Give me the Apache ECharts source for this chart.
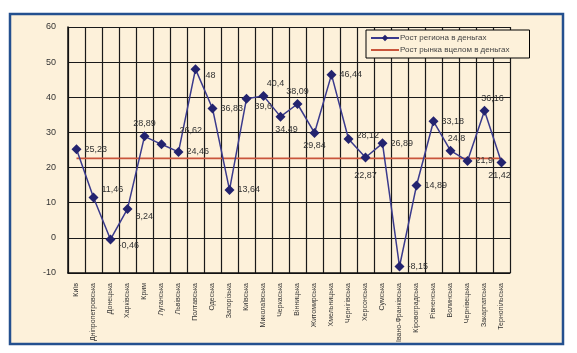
<!DOCTYPE html>
<html>
<head>
<meta charset="utf-8">
<script src="https://cdn.jsdelivr.net/npm/echarts@6/dist/echarts.min.js"></script>
<style>
  html, body { margin: 0; padding: 0; background: #fff; }
  #chart { width: 577px; height: 353px; }
</style>
</head>
<body>
<div id="chart"></div>
<script>
// регіони
var regions = ['Київ', 'Дніпропетровська', 'Донецька', 'Харківська', 'Крим', 'Луганська', 'Львівська',
  'Полтавська', 'Одеська', 'Запорізька', 'Київська', 'Миколаївська', 'Черкаська', 'Вінницька',
  'Житомирська', 'Хмельницька', 'Чернігівська', 'Херсонська', 'Сумська', 'Івано-Франківська',
  'Кіровоградська', 'Рівненська', 'Волинська', 'Чернівецька', 'Закарпатська', 'Тернопільська']
// рост региона, %
var regionGrowth = [25.23, 11.46, -0.46, 8.24, 28.89, 26.62, 24.46,
  48, 36.83, 13.64, 39.6, 40.4, 34.49, 38.09,
  29.84, 46.44, 28.12, 22.87, 26.89, -8.15,
  14.89, 33.18, 24.8, 21.9, 36.16, 21.42]
// рост рынка в целом
var marketGrowth = [22.6, 22.6, 22.6, 22.6, 22.6, 22.6, 22.6,
  22.6, 22.6, 22.6, 22.6, 22.6, 22.6, 22.6,
  22.6, 22.6, 22.6, 22.6, 22.6, 22.6,
  22.6, 22.6, 22.6, 22.6, 22.6, 22.6]
var yTicks = [-10, 0, 10, 20, 30, 40, 50, 60]

var seriesNames = ['Рост региона в деньгах', 'Рост рынка вцелом в деньгах']

// где стоит подпись у точки (по умолчанию справа)
var labelPlace = {
  1: { position: 'right', offset: [0, -8] },
  3: { position: 'right', offset: [0, 8] },
  2: { position: 'right', offset: [0, 6] },
  4: { position: 'top' },
  5: { position: 'right', offset: [10, -14] },
  7: { position: 'right', offset: [2, 6] },
  10: { position: 'right', offset: [0, 8] },
  11: { position: 'top', offset: [12, 0] },
  12: { position: 'bottom', offset: [6, 0] },
  13: { position: 'top' },
  14: { position: 'bottom' },
  16: { position: 'right', offset: [0, -4] },
  17: { position: 'bottom', offset: [0, 6] },
  22: { position: 'top', offset: [6, 0] },
  24: { position: 'top', offset: [8, 0] },
  25: { position: 'bottom', offset: [-2, 0] }
}

var fmt = function (v) { return String(v).replace('.', ',') }

var pointData = regionGrowth.map(function (v, i) {
  var item = { value: v }
  if (labelPlace[i]) item.label = labelPlace[i]
  return item
})

var chart = echarts.init(document.getElementById('chart'))
var option = {
  backgroundColor: '#fff',
  textStyle: { fontFamily: 'Liberation Sans, Arial, sans-serif' },
  graphic: [{
    type: 'rect',
    shape: { x: 10, y: 14, width: 553, height: 330 },
    style: { fill: '#fdf1da', stroke: '#24508f', lineWidth: 2.5 },
    z: -10
  }],
  grid: { left: 68, top: 27, right: 67, bottom: 80 },
  legend: {
    orient: 'vertical',
    left: 366,
    top: 30,
    width: 140,
    padding: [4, 20, 4, 4],
    itemGap: 4,
    itemWidth: 28,
    itemHeight: 8,
    borderColor: '#000',
    borderWidth: 1,
    backgroundColor: '#fdf1da',
    textStyle: { fontSize: 8, color: '#444', padding: [0, 0, 0, -4] },
    data: [
      { name: seriesNames[0] },
      { name: seriesNames[1], itemStyle: { opacity: 0 } }
    ]
  },
  xAxis: {
    type: 'category',
    data: regions,
    boundaryGap: true,
    axisLine: { onZero: false, lineStyle: { color: '#111', width: 1.5 } },
    axisTick: { show: false },
    axisLabel: { rotate: 90, interval: 0, fontSize: 7, color: '#333', margin: 10 },
    splitLine: { show: true, interval: 0, lineStyle: { color: '#1a1a1a', width: 1.2 } }
  },
  yAxis: {
    type: 'value',
    min: yTicks[0],
    max: yTicks[yTicks.length - 1],
    interval: 10,
    axisLine: { show: true, lineStyle: { color: '#111', width: 1.5 } },
    axisTick: { show: false },
    axisLabel: { fontSize: 9, color: '#333', margin: 12 },
    splitLine: { lineStyle: { color: '#1a1a1a', width: 1.2 } }
  },
  series: [
    {
      name: seriesNames[0],
      type: 'line',
      data: pointData,
      symbol: 'diamond',
      symbolSize: 10,
      color: '#2a2a80',
      lineStyle: { color: '#3a3a8c', width: 1.5 },
      itemStyle: { color: '#23236f' },
      label: {
        show: true,
        position: 'right',
        distance: 3,
        fontSize: 9,
        color: '#333',
        formatter: function (p) { return fmt(p.value) }
      },
      z: 5
    },
    {
      name: seriesNames[1],
      type: 'line',
      data: marketGrowth,
      symbol: 'none',
      color: '#c9553c',
      lineStyle: { color: '#c9553c', width: 1.8 },
      z: 4
    }
  ]
}
chart.setOption(option)
</script>
</body>
</html>
